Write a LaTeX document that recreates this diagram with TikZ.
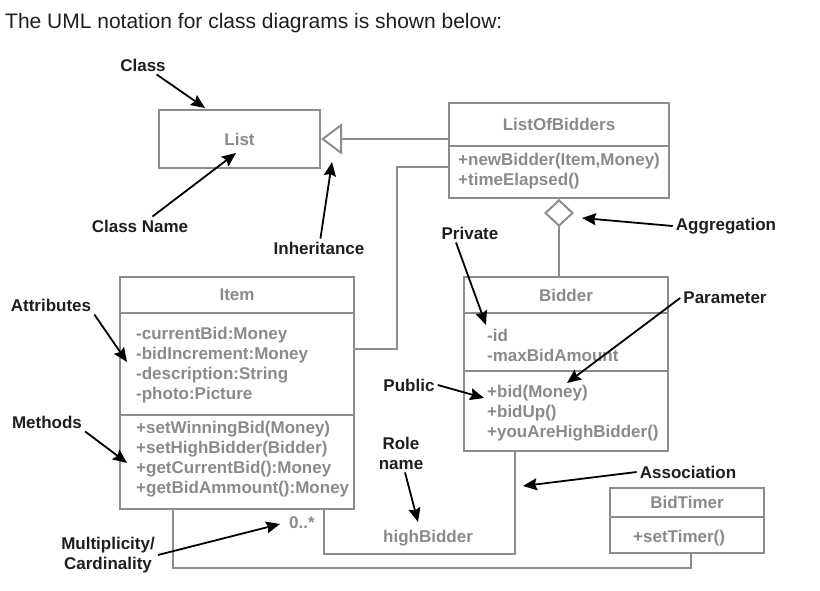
\documentclass[tikz,border=0pt]{standalone}
\usepackage{fontspec}
\setmainfont{Liberation Sans}
\usetikzlibrary{arrows.meta}

\definecolor{linegray}{HTML}{8C8C8C}
\definecolor{textgray}{HTML}{8A8A8A}
\definecolor{notedark}{HTML}{1E1E1E}
\newcommand{\umlfont}{\bfseries\fontsize{17}{20}\selectfont}

\begin{document}
\begin{tikzpicture}[x=1pt, y=-1pt,
  compart/.style={draw=linegray, line width=2pt, anchor=north west, inner sep=0pt,
    text=textgray, font=\umlfont},
  member/.style={anchor=west, align=left, inner sep=0pt, text=textgray, font=\umlfont},
  note/.style={text=notedark, font=\umlfont, inner sep=3pt, align=center},
  pointer/.style={draw=black, line width=1.8pt, -{Stealth[length=14pt, width=12pt, inset=2pt]}},
  link/.style={draw=linegray, line width=2pt}]

\useasboundingbox (0,0) rectangle (820,591);

% Heading line
\node[anchor=base west, inner sep=0pt, text=notedark, font=\fontsize{21}{25}\selectfont]
  (title) at (5,29) {The UML notation for class diagrams is shown below:};

% Class List
\node[compart, minimum width=161pt, minimum height=58pt] (list) at (158,109) {List};

% Class ListOfBidders
\node[compart, minimum width=220pt, minimum height=43pt] (lobhead) at (448,102) {ListOfBidders};
\node[compart, minimum width=220pt, minimum height=52pt] (lobops) at (448,145) {};
\node[member] (lobopstxt) at (458,171) {+newBidder(Item,Money)\\+timeElapsed()};

% Class Item
\node[compart, minimum width=234pt, minimum height=36pt] (itemhead) at (119,276) {Item};
\node[compart, minimum width=234pt, minimum height=102pt] (itemattr) at (119,312) {};
\node[compart, minimum width=234pt, minimum height=94pt] (itemops) at (119,414) {};
\node[member] (itemattrtxt) at (136,365)
  {-currentBid:Money\\-bidIncrement:Money\\-description:String\\-photo:Picture};
\node[member] (itemopstxt) at (136,459)
  {+setWinningBid(Money)\\+setHighBidder(Bidder)\\+getCurrentBid():Money\\+getBidAmmount():Money};

% Class Bidder
\node[compart, minimum width=204pt, minimum height=36pt] (bidderhead) at (463,276) {Bidder};
\node[compart, minimum width=204pt, minimum height=58pt] (bidderattr) at (463,312) {};
\node[compart, minimum width=204pt, minimum height=80pt] (bidderops) at (463,370) {};
\node[member] (bidderattrtxt) at (487,345) {-id\\-maxBidAmount};
\node[member] (bidderopstxt) at (487,413) {+bid(Money)\\+bidUp()\\+youAreHighBidder()};

% Class BidTimer
\node[compart, minimum width=154pt, minimum height=29pt] (timerhead) at (609,487) {BidTimer};
\node[compart, minimum width=154pt, minimum height=36pt] (timerops) at (609,516) {};
\node[member] (timeropstxt) at (633,538) {+setTimer()};

% Relations between the classes
\draw[link, -{Triangle[open, length=21pt, width=31pt]}] (lobhead.west |- list.east) -- (list.east);
\draw[link] ([yshift=15pt]itemattr.east) -| ([xshift=-51pt, yshift=5pt]lobops.west)
  -- ([yshift=5pt]lobops.west);
\draw[link, -{Diamond[open, length=28pt, width=30pt]}] (lobops.south |- bidderhead.north) -- (lobops.south);
\draw[link] ([xshift=-51pt]bidderops.south) -- ++(0,102) -| ([xshift=87pt]itemops.south);
\draw[link] ([xshift=4pt]timerops.south) -- ++(0,14) -| ([xshift=-64pt]itemops.south);

% Role name and multiplicity
\node[member, anchor=center, text=textgray] (mult) at (302,523) {0..*};
\node[member, anchor=center, text=textgray] (role) at (428,538) {highBidder};

% Notes and their arrows
\node[note] (lblclass) at (143,65) {Class};
\node[note] (lblclassname) at (140,226) {Class Name};
\node[note] (lblinherit) at (319,248) {Inheritance};
\node[note] (lblaggr) at (726,226) {Aggregation};
\node[note] (lblprivate) at (470,233) {Private};
\node[note] (lblparam) at (725,298) {Parameter};
\node[note] (lblpublic) at (409,385) {Public};
\node[note] (lblrole) at (401,453) {Role\\name};
\node[note] (lblassoc) at (688,472) {Association};
\node[note] (lblattr) at (51,305) {Attributes};
\node[note] (lblmethods) at (47,422) {Methods};
\node[note] (lblmult) at (108,555) {Multiplicity/\\Cardinality};

\coordinate (classtip) at (205,108);
\coordinate (classnametip) at (236,153);
\coordinate (inherittip) at (332,162);
\coordinate (aggrtip) at (582,218);
\coordinate (privatetip) at (486,325);
\coordinate (paramtip) at (567,383);
\coordinate (publictip) at (484,398);
\coordinate (roletip) at (418,522);
\coordinate (assoctip) at (523,486);
\coordinate (attrtip) at (127,362);
\coordinate (methodstip) at (127,463);
\coordinate (multtip) at (280,524);

\draw[pointer] (lblclass) -- (classtip);
\draw[pointer] (lblclassname) -- (classnametip);
\draw[pointer] (lblinherit) -- (inherittip);
\draw[pointer] (lblaggr.west) -- (aggrtip);
\draw[pointer] ([xshift=-14pt]lblprivate.south) -- (privatetip);
\draw[pointer] (lblparam.west) -- (paramtip);
\draw[pointer] (lblpublic.east) -- (publictip);
\draw[pointer] ([xshift=4pt]lblrole.south) -- (roletip);
\draw[pointer] (lblassoc.west) -- (assoctip);
\draw[pointer] (lblattr.south east) -- (attrtip);
\draw[pointer] (lblmethods.south east) -- (methodstip);
\draw[pointer] (lblmult.east) -- (multtip);

\end{tikzpicture}
\end{document}
